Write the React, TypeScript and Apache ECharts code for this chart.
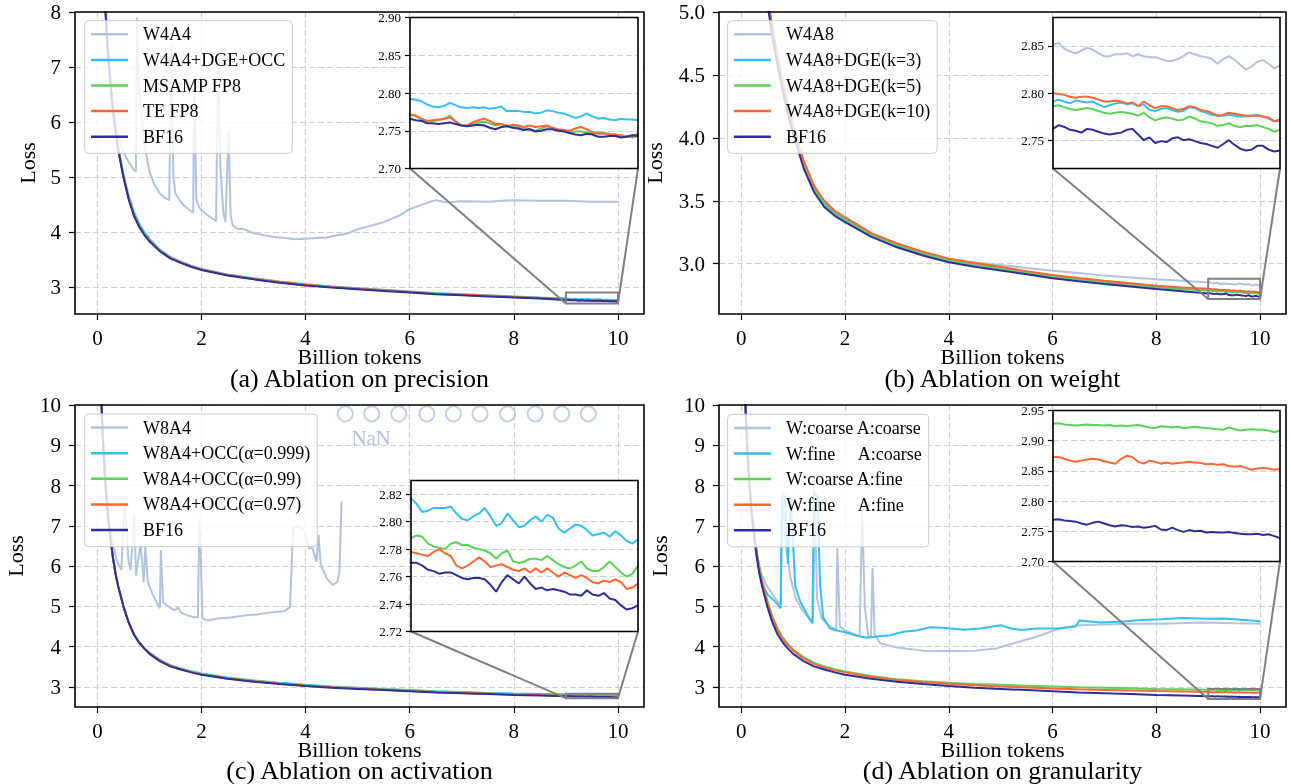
import React, { useEffect, useRef } from "react";
import * as echarts from "echarts";

const FONT = "Liberation Serif";
const C_LIGHT = "#B0C4DE";
const C_CYAN = "#33BFF2";
const C_GREEN = "#5BD35B";
const C_ORANGE = "#FF6633";
const C_NAVY = "#2E2E99";
const GRID_LINE = { color: "#d0d0d0", type: [6, 3] as number[], width: 1.2 };

// ---------- x positions (billion tokens) ----------
const X_EARLY = [0.05, 0.08, 0.1, 0.15, 0.2, 0.25, 0.3, 0.35, 0.4, 0.5, 0.6, 0.7, 0.8, 0.9, 1.0, 1.2, 1.4, 1.6, 1.8, 2.0, 2.5, 3.0, 3.5, 4.0, 4.5, 5.0, 5.5, 6.0, 6.5, 7.0, 7.5, 8.0, 8.5];
const X_EARLY_B = [0.3, 0.4, 0.5, 0.6, 0.7, 0.8, 0.9, 1.0, 1.2, 1.4, 1.6, 1.8, 2.0, 2.5, 3.0, 3.5, 4.0, 4.5, 5.0, 5.5, 6.0, 6.5, 7.0, 7.5, 8.0, 8.5];
const X_ZOOM = [9.0, 9.025, 9.05, 9.075, 9.1, 9.125, 9.15, 9.175, 9.2, 9.225, 9.25, 9.275, 9.3, 9.325, 9.35, 9.375, 9.4, 9.425, 9.45, 9.475, 9.5, 9.525, 9.55, 9.575, 9.6, 9.625, 9.65, 9.675, 9.7, 9.725, 9.75, 9.775, 9.8, 9.825, 9.85, 9.875, 9.9, 9.925, 9.95, 9.975, 10.0];

// ---------- (a) precision ----------
const A_W4A4 = [[0.05, 11.0], [0.1, 9.3], [0.2, 7.3], [0.3, 6.25], [0.4, 5.75], [0.5, 5.45], [0.6, 5.28], [0.7, 5.13], [0.74, 5.1], [0.76, 7.9], [0.8, 6.6], [0.9, 5.6], [1.0, 5.1], [1.1, 4.85], [1.2, 4.7], [1.3, 4.62], [1.38, 4.58], [1.42, 7.4], [1.46, 5.0], [1.5, 4.7], [1.6, 4.55], [1.7, 4.45], [1.8, 4.38], [1.84, 4.35], [1.86, 6.8], [1.9, 4.6], [1.95, 4.45], [2.0, 4.4], [2.1, 4.32], [2.2, 4.25], [2.28, 4.2], [2.32, 7.3], [2.36, 5.2], [2.42, 4.35], [2.46, 4.18], [2.52, 5.85], [2.56, 4.3], [2.6, 4.12], [2.7, 4.05], [2.8, 4.06], [3.0, 3.98], [3.2, 3.94], [3.4, 3.91], [3.6, 3.89], [3.8, 3.87], [4.0, 3.88], [4.2, 3.89], [4.4, 3.9], [4.6, 3.94], [4.8, 3.97], [5.0, 4.05], [5.2, 4.1], [5.5, 4.18], [5.8, 4.3], [6.0, 4.42], [6.3, 4.52], [6.5, 4.58], [6.7, 4.54], [7.0, 4.56], [7.5, 4.55], [8.0, 4.58], [8.5, 4.57], [9.0, 4.57], [9.5, 4.55], [10.0, 4.55]];
const A_CYAN_EARLY = [11.0, 10.0, 9.3, 8.15, 7.35, 6.75, 6.25, 5.85, 5.55, 5.05, 4.66, 4.37, 4.16, 4.0, 3.88, 3.68, 3.55, 3.46, 3.39, 3.33, 3.23, 3.16, 3.1, 3.05, 3.01, 2.98, 2.95, 2.92, 2.89, 2.87, 2.85, 2.83, 2.81];
const A_CYAN_ZOOM = [2.792, 2.791, 2.789, 2.785, 2.782, 2.781, 2.783, 2.787, 2.784, 2.781, 2.78, 2.781, 2.78, 2.781, 2.779, 2.78, 2.782, 2.776, 2.776, 2.776, 2.775, 2.775, 2.773, 2.774, 2.777, 2.776, 2.774, 2.773, 2.77, 2.767, 2.769, 2.773, 2.769, 2.766, 2.767, 2.765, 2.764, 2.766, 2.765, 2.765, 2.764];
const A_GREEN_EARLY = [11.0, 10.0, 9.3, 8.12, 7.32, 6.72, 6.22, 5.82, 5.52, 5.02, 4.62, 4.32, 4.12, 3.97, 3.85, 3.66, 3.53, 3.45, 3.38, 3.32, 3.22, 3.15, 3.09, 3.04, 3.0, 2.97, 2.94, 2.91, 2.88, 2.86, 2.84, 2.82, 2.8];
const A_GREEN_ZOOM = [2.771, 2.769, 2.765, 2.763, 2.763, 2.764, 2.766, 2.77, 2.763, 2.757, 2.757, 2.759, 2.761, 2.762, 2.76, 2.757, 2.759, 2.757, 2.755, 2.755, 2.754, 2.752, 2.75, 2.753, 2.756, 2.753, 2.751, 2.75, 2.748, 2.749, 2.749, 2.748, 2.747, 2.748, 2.747, 2.746, 2.745, 2.744, 2.743, 2.741, 2.743];
const A_ORANGE_EARLY = [11.0, 10.0, 9.3, 8.1, 7.3, 6.7, 6.2, 5.8, 5.5, 5.0, 4.61, 4.31, 4.11, 3.96, 3.84, 3.66, 3.53, 3.45, 3.38, 3.32, 3.22, 3.15, 3.09, 3.04, 3.0, 2.97, 2.94, 2.91, 2.88, 2.86, 2.84, 2.82, 2.8];
const A_ORANGE_ZOOM = [2.772, 2.77, 2.766, 2.763, 2.764, 2.765, 2.766, 2.768, 2.762, 2.757, 2.757, 2.761, 2.764, 2.766, 2.763, 2.759, 2.759, 2.756, 2.758, 2.757, 2.755, 2.757, 2.755, 2.756, 2.757, 2.754, 2.752, 2.751, 2.75, 2.753, 2.755, 2.752, 2.748, 2.746, 2.746, 2.745, 2.745, 2.743, 2.742, 2.743, 2.746];
const A_BF16_EARLY = [11.0, 10.0, 9.3, 8.1, 7.3, 6.7, 6.2, 5.8, 5.5, 5.0, 4.6, 4.3, 4.1, 3.95, 3.83, 3.65, 3.52, 3.44, 3.37, 3.31, 3.21, 3.14, 3.08, 3.03, 2.99, 2.96, 2.93, 2.9, 2.87, 2.85, 2.83, 2.81, 2.79];
const A_BF16_ZOOM = [2.766, 2.764, 2.763, 2.76, 2.76, 2.759, 2.76, 2.761, 2.759, 2.757, 2.756, 2.757, 2.758, 2.757, 2.754, 2.752, 2.755, 2.756, 2.754, 2.753, 2.751, 2.752, 2.749, 2.75, 2.752, 2.752, 2.75, 2.749, 2.747, 2.745, 2.744, 2.746, 2.745, 2.742, 2.742, 2.743, 2.743, 2.741, 2.742, 2.744, 2.743];

// ---------- (b) weight ----------
const B_LIGHT_EARLY = [6.45, 5.66, 5.12, 4.85, 4.62, 4.42, 4.24, 4.07, 3.79, 3.59, 3.48, 3.41, 3.36, 3.24, 3.16, 3.09, 3.04, 3.01, 2.99, 2.965, 2.944, 2.925, 2.905, 2.89, 2.876, 2.865];
const B_LIGHT_ZOOM = [2.851, 2.853, 2.847, 2.844, 2.842, 2.845, 2.848, 2.846, 2.842, 2.839, 2.839, 2.841, 2.841, 2.842, 2.839, 2.841, 2.839, 2.838, 2.838, 2.836, 2.834, 2.834, 2.836, 2.839, 2.843, 2.841, 2.839, 2.838, 2.836, 2.831, 2.836, 2.839, 2.835, 2.83, 2.825, 2.828, 2.833, 2.835, 2.831, 2.826, 2.829];
const B_CYAN_EARLY = [6.5, 5.68, 5.12, 4.85, 4.62, 4.42, 4.24, 4.08, 3.8, 3.6, 3.48, 3.405, 3.355, 3.235, 3.15, 3.085, 3.033, 2.998, 2.968, 2.935, 2.905, 2.88, 2.86, 2.84, 2.82, 2.805];
const B_CYAN_ZOOM = [2.791, 2.793, 2.791, 2.789, 2.792, 2.791, 2.79, 2.791, 2.788, 2.785, 2.787, 2.789, 2.79, 2.788, 2.789, 2.786, 2.788, 2.782, 2.781, 2.783, 2.784, 2.782, 2.78, 2.781, 2.785, 2.784, 2.781, 2.779, 2.777, 2.776, 2.776, 2.777, 2.776, 2.775, 2.775, 2.776, 2.777, 2.775, 2.773, 2.77, 2.77];
const B_GREEN_EARLY = [6.45, 5.65, 5.1, 4.83, 4.6, 4.4, 4.22, 4.06, 3.78, 3.59, 3.47, 3.395, 3.345, 3.228, 3.143, 3.078, 3.026, 2.99, 2.96, 2.926, 2.896, 2.872, 2.851, 2.831, 2.812, 2.797];
const B_GREEN_ZOOM = [2.786, 2.787, 2.785, 2.783, 2.782, 2.783, 2.784, 2.783, 2.781, 2.779, 2.778, 2.779, 2.78, 2.779, 2.778, 2.776, 2.779, 2.774, 2.771, 2.773, 2.774, 2.773, 2.771, 2.772, 2.775, 2.773, 2.77, 2.769, 2.768, 2.765, 2.766, 2.768, 2.765, 2.764, 2.765, 2.765, 2.766, 2.764, 2.762, 2.759, 2.761];
const B_ORANGE_EARLY = [6.55, 5.72, 5.15, 4.88, 4.65, 4.45, 4.27, 4.1, 3.82, 3.62, 3.5, 3.42, 3.37, 3.245, 3.16, 3.095, 3.04, 3.005, 2.975, 2.94, 2.91, 2.886, 2.865, 2.845, 2.825, 2.81];
const B_ORANGE_ZOOM = [2.8, 2.799, 2.798, 2.796, 2.795, 2.796, 2.796, 2.795, 2.793, 2.791, 2.791, 2.792, 2.791, 2.789, 2.79, 2.786, 2.791, 2.787, 2.784, 2.786, 2.786, 2.784, 2.782, 2.783, 2.786, 2.785, 2.782, 2.781, 2.779, 2.776, 2.777, 2.779, 2.778, 2.777, 2.776, 2.776, 2.776, 2.775, 2.774, 2.77, 2.772];
const B_BF16_EARLY = [6.4, 5.6, 5.08, 4.8, 4.57, 4.37, 4.19, 4.03, 3.76, 3.57, 3.45, 3.38, 3.33, 3.215, 3.13, 3.065, 3.012, 2.975, 2.945, 2.915, 2.885, 2.86, 2.838, 2.818, 2.798, 2.78];
const B_BF16_ZOOM = [2.762, 2.766, 2.764, 2.761, 2.76, 2.758, 2.762, 2.761, 2.759, 2.757, 2.756, 2.757, 2.758, 2.761, 2.762, 2.756, 2.75, 2.753, 2.747, 2.749, 2.748, 2.752, 2.753, 2.75, 2.751, 2.749, 2.747, 2.746, 2.744, 2.742, 2.746, 2.75, 2.745, 2.741, 2.739, 2.74, 2.744, 2.744, 2.74, 2.738, 2.739];

// ---------- (c) activation ----------
const C_W8A4 = [[0.05, 11.0], [0.1, 9.3], [0.2, 7.3], [0.28, 6.65], [0.37, 6.15], [0.46, 5.9], [0.52, 7.6], [0.6, 6.1], [0.64, 5.9], [0.71, 7.3], [0.74, 5.76], [0.83, 6.55], [0.89, 5.6], [0.92, 6.5], [0.97, 5.6], [1.07, 5.27], [1.2, 4.95], [1.22, 6.4], [1.26, 5.1], [1.36, 5.0], [1.48, 4.9], [1.55, 4.97], [1.6, 4.85], [1.73, 4.77], [1.86, 4.73], [1.93, 4.73], [1.96, 7.18], [2.02, 4.7], [2.12, 4.65], [2.31, 4.7], [2.56, 4.72], [2.82, 4.77], [3.08, 4.8], [3.33, 4.85], [3.59, 4.88], [3.7, 4.98], [3.76, 6.93], [3.86, 6.98], [3.98, 6.89], [4.06, 6.44], [4.13, 6.44], [4.21, 6.11], [4.25, 6.77], [4.29, 6.02], [4.41, 5.69], [4.49, 5.57], [4.53, 5.53], [4.61, 5.61], [4.65, 5.86], [4.69, 7.6]];
const C_NAN_X = [4.76, 5.27, 5.79, 6.33, 6.84, 7.35, 7.88, 8.41, 8.92, 9.43];
const C_NAN_Y = [9.78, 9.78, 9.78, 9.78, 9.78, 9.78, 9.78, 9.78, 9.78, 9.78];
const C_CYAN_EARLY = [11.0, 10.0, 9.3, 8.1, 7.3, 6.7, 6.2, 5.8, 5.5, 5.0, 4.61, 4.32, 4.12, 3.97, 3.85, 3.67, 3.54, 3.46, 3.39, 3.33, 3.23, 3.16, 3.1, 3.05, 3.01, 2.98, 2.95, 2.92, 2.89, 2.87, 2.85, 2.835, 2.825];
const C_CYAN_ZOOM = [2.817, 2.813, 2.807, 2.808, 2.81, 2.81, 2.81, 2.811, 2.806, 2.802, 2.801, 2.804, 2.806, 2.81, 2.804, 2.797, 2.799, 2.806, 2.801, 2.796, 2.797, 2.801, 2.804, 2.8, 2.805, 2.803, 2.795, 2.792, 2.795, 2.798, 2.797, 2.794, 2.79, 2.791, 2.792, 2.789, 2.793, 2.79, 2.786, 2.784, 2.787];
const C_GREEN_EARLY = [11.0, 10.0, 9.3, 8.1, 7.3, 6.7, 6.2, 5.8, 5.5, 5.0, 4.6, 4.31, 4.11, 3.96, 3.84, 3.66, 3.53, 3.45, 3.38, 3.32, 3.22, 3.15, 3.09, 3.04, 3.0, 2.97, 2.94, 2.91, 2.88, 2.86, 2.84, 2.815, 2.8];
const C_GREEN_ZOOM = [2.788, 2.79, 2.789, 2.784, 2.782, 2.781, 2.78, 2.784, 2.785, 2.783, 2.783, 2.781, 2.78, 2.779, 2.777, 2.773, 2.777, 2.779, 2.771, 2.77, 2.771, 2.773, 2.773, 2.772, 2.775, 2.772, 2.769, 2.767, 2.766, 2.768, 2.771, 2.766, 2.764, 2.764, 2.767, 2.771, 2.767, 2.763, 2.76, 2.762, 2.768];
const C_ORANGE_EARLY = [11.0, 10.0, 9.3, 8.1, 7.3, 6.7, 6.2, 5.8, 5.5, 5.0, 4.6, 4.3, 4.1, 3.96, 3.83, 3.65, 3.52, 3.44, 3.37, 3.31, 3.21, 3.14, 3.08, 3.03, 2.99, 2.96, 2.93, 2.9, 2.87, 2.85, 2.83, 2.81, 2.795];
const C_ORANGE_ZOOM = [2.778, 2.777, 2.776, 2.775, 2.778, 2.78, 2.777, 2.775, 2.768, 2.766, 2.768, 2.771, 2.774, 2.771, 2.767, 2.768, 2.769, 2.767, 2.765, 2.764, 2.766, 2.763, 2.766, 2.763, 2.766, 2.763, 2.76, 2.763, 2.761, 2.759, 2.761, 2.759, 2.756, 2.755, 2.757, 2.756, 2.758, 2.756, 2.751, 2.752, 2.755];
const C_BF16_EARLY = [11.0, 10.0, 9.3, 8.1, 7.3, 6.7, 6.2, 5.8, 5.5, 5.0, 4.6, 4.3, 4.1, 3.95, 3.82, 3.64, 3.51, 3.43, 3.36, 3.3, 3.2, 3.13, 3.07, 3.02, 2.98, 2.95, 2.92, 2.89, 2.86, 2.84, 2.82, 2.8, 2.785];
const C_BF16_ZOOM = [2.77, 2.77, 2.768, 2.765, 2.764, 2.762, 2.763, 2.763, 2.761, 2.759, 2.758, 2.759, 2.759, 2.758, 2.754, 2.749, 2.756, 2.761, 2.758, 2.755, 2.76, 2.755, 2.751, 2.752, 2.75, 2.751, 2.75, 2.749, 2.747, 2.747, 2.746, 2.75, 2.747, 2.746, 2.748, 2.744, 2.743, 2.739, 2.736, 2.737, 2.739];

// ---------- (d) granularity ----------
const D_COARSE_COARSE = [[0.05, 11.0], [0.1, 9.3], [0.2, 7.3], [0.3, 6.3], [0.4, 5.75], [0.5, 5.5], [0.6, 5.3], [0.7, 5.12], [0.76, 5.05], [0.79, 7.85], [0.84, 6.7], [0.95, 5.7], [1.05, 5.2], [1.15, 4.95], [1.3, 4.7], [1.38, 4.6], [1.42, 7.5], [1.46, 5.2], [1.55, 4.7], [1.7, 4.5], [1.83, 4.42], [1.85, 6.45], [1.9, 4.5], [2.0, 4.4], [2.15, 4.32], [2.28, 4.25], [2.33, 7.4], [2.38, 5.0], [2.45, 4.25], [2.5, 4.22], [2.53, 5.95], [2.57, 4.3], [2.68, 4.08], [3.0, 3.98], [3.5, 3.9], [4.0, 3.89], [4.5, 3.9], [4.9, 3.95], [5.3, 4.1], [5.68, 4.24], [6.13, 4.45], [6.52, 4.53], [7.0, 4.55], [7.5, 4.57], [8.1, 4.57], [8.9, 4.6], [9.5, 4.58], [10.0, 4.57]];
const D_FINE_COARSE = [[0.05, 11.0], [0.1, 9.3], [0.2, 7.3], [0.3, 6.2], [0.38, 5.65], [0.5, 5.3], [0.63, 5.15], [0.72, 5.02], [0.76, 4.95], [0.78, 7.7], [0.84, 7.75], [0.9, 6.05], [0.95, 7.7], [1.0, 6.5], [1.04, 5.5], [1.14, 5.1], [1.27, 4.8], [1.37, 4.58], [1.4, 7.85], [1.47, 7.7], [1.52, 5.5], [1.58, 4.72], [1.71, 4.45], [1.84, 4.4], [1.97, 4.37], [2.23, 4.27], [2.42, 4.22], [2.61, 4.25], [2.87, 4.28], [3.12, 4.37], [3.38, 4.4], [3.64, 4.48], [3.9, 4.47], [4.03, 4.45], [4.3, 4.42], [4.6, 4.45], [5.0, 4.53], [5.2, 4.45], [5.4, 4.41], [5.7, 4.45], [6.13, 4.45], [6.44, 4.5], [6.52, 4.65], [6.92, 4.6], [7.3, 4.62], [7.71, 4.66], [8.1, 4.68], [8.5, 4.71], [9.0, 4.69], [9.3, 4.7], [9.7, 4.66], [10.0, 4.63]];
const D_GREEN_EARLY = [11.0, 10.0, 9.3, 8.15, 7.4, 6.85, 6.35, 5.95, 5.65, 5.15, 4.75, 4.45, 4.22, 4.06, 3.93, 3.74, 3.6, 3.51, 3.44, 3.38, 3.27, 3.19, 3.14, 3.1, 3.07, 3.05, 3.03, 3.01, 2.99, 2.98, 2.965, 2.95, 2.94];
const D_GREEN_ZOOM = [2.928, 2.929, 2.927, 2.926, 2.925, 2.926, 2.927, 2.926, 2.926, 2.925, 2.926, 2.924, 2.925, 2.924, 2.925, 2.926, 2.924, 2.922, 2.921, 2.924, 2.923, 2.922, 2.923, 2.921, 2.922, 2.923, 2.922, 2.921, 2.92, 2.919, 2.918, 2.922, 2.919, 2.917, 2.918, 2.919, 2.918, 2.918, 2.917, 2.914, 2.917];
const D_ORANGE_EARLY = [11.0, 10.0, 9.3, 8.12, 7.35, 6.8, 6.3, 5.9, 5.6, 5.1, 4.7, 4.4, 4.18, 4.03, 3.9, 3.71, 3.57, 3.48, 3.41, 3.36, 3.25, 3.17, 3.12, 3.08, 3.04, 3.01, 2.985, 2.96, 2.94, 2.925, 2.91, 2.895, 2.885];
const D_ORANGE_ZOOM = [2.873, 2.873, 2.87, 2.867, 2.865, 2.867, 2.869, 2.87, 2.869, 2.866, 2.864, 2.862, 2.87, 2.875, 2.873, 2.865, 2.862, 2.867, 2.865, 2.862, 2.864, 2.862, 2.863, 2.864, 2.865, 2.864, 2.863, 2.861, 2.862, 2.86, 2.861, 2.858, 2.857, 2.858, 2.855, 2.852, 2.854, 2.855, 2.854, 2.852, 2.853];
const D_BF16_EARLY = [11.0, 10.0, 9.3, 8.1, 7.3, 6.7, 6.2, 5.8, 5.5, 5.0, 4.6, 4.3, 4.1, 3.95, 3.82, 3.64, 3.51, 3.43, 3.36, 3.3, 3.2, 3.13, 3.07, 3.02, 2.98, 2.95, 2.92, 2.89, 2.86, 2.84, 2.82, 2.8, 2.785];
const D_BF16_ZOOM = [2.769, 2.77, 2.768, 2.767, 2.766, 2.763, 2.761, 2.764, 2.766, 2.763, 2.76, 2.758, 2.76, 2.759, 2.757, 2.758, 2.756, 2.757, 2.759, 2.753, 2.752, 2.756, 2.752, 2.749, 2.752, 2.75, 2.751, 2.748, 2.749, 2.748, 2.748, 2.749, 2.747, 2.746, 2.745, 2.745, 2.746, 2.744, 2.745, 2.742, 2.739];

// ---------- axes / ticks ----------
const X_RANGE = [-0.43, 10.5];
const X_TICKS = [0, 2, 4, 6, 8, 10];
const Y_RANGES = [[2.51, 8], [2.6, 5.0], [2.5, 10], [2.5, 10]];
const Y_TICKS = [[3, 4, 5, 6, 7, 8], [3.0, 3.5, 4.0, 4.5, 5.0], [3, 4, 5, 6, 7, 8, 9, 10], [3, 4, 5, 6, 7, 8, 9, 10]];
const Y_DIGITS = [0, 1, 0, 0];
const ZOOM_X = [9, 10];
const INSET_Y = [[2.7, 2.9], [2.72, 2.88], [2.72, 2.83], [2.7, 2.95]];
const INSET_TICKS = [[2.7, 2.75, 2.8, 2.85, 2.9], [2.75, 2.8, 2.85], [2.72, 2.74, 2.76, 2.78, 2.8, 2.82], [2.7, 2.75, 2.8, 2.85, 2.9, 2.95]];
const TITLES = ["(a) Ablation on precision", "(b) Ablation on weight", "(c) Ablation on activation", "(d) Ablation on granularity"];
const SP5 = "\u00a0\u00a0\u00a0\u00a0\u00a0";

// layout (pixels)
const MAIN_GRIDS = [
  { left: 75, top: 12, width: 569, height: 302 },
  { left: 719, top: 12, width: 567, height: 302 },
  { left: 75, top: 405, width: 569, height: 302 },
  { left: 719, top: 405, width: 567, height: 302 },
];
const INSET_GRIDS = [
  { left: 410, top: 17.5, width: 228, height: 151 },
  { left: 1053, top: 17.5, width: 227, height: 151 },
  { left: 411, top: 480.5, width: 227, height: 151 },
  { left: 1053, top: 410.5, width: 227, height: 151 },
];
const LEGEND_POS = [
  { left: 84.7, top: 20.7 },
  { left: 727.6, top: 20.7 },
  { left: 84.7, top: 414 },
  { left: 727.6, top: 414.3 },
];
const NAME_GAPS = [37, 54, 48.5, 48.5];
const TITLE_Y = [378, 378, 770, 770];

function zip(xs: number[], ys: number[]) {
  return xs.map((x, i) => [x, ys[i]]);
}
function join(xs: number[], early: number[], zoom: number[]) {
  return zip(xs, early).concat(zip(X_ZOOM, zoom));
}

type Ser = { name: string; color: string; data: number[][] };
const PANELS: Ser[][] = [
  [
    { name: "W4A4", color: C_LIGHT, data: A_W4A4 },
    { name: "W4A4+DGE+OCC", color: C_CYAN, data: join(X_EARLY, A_CYAN_EARLY, A_CYAN_ZOOM) },
    { name: "MSAMP FP8", color: C_GREEN, data: join(X_EARLY, A_GREEN_EARLY, A_GREEN_ZOOM) },
    { name: "TE FP8", color: C_ORANGE, data: join(X_EARLY, A_ORANGE_EARLY, A_ORANGE_ZOOM) },
    { name: "BF16", color: C_NAVY, data: join(X_EARLY, A_BF16_EARLY, A_BF16_ZOOM) },
  ],
  [
    { name: "W4A8", color: C_LIGHT, data: join(X_EARLY_B, B_LIGHT_EARLY, B_LIGHT_ZOOM) },
    { name: "W4A8+DGE(k=3)", color: C_CYAN, data: join(X_EARLY_B, B_CYAN_EARLY, B_CYAN_ZOOM) },
    { name: "W4A8+DGE(k=5)", color: C_GREEN, data: join(X_EARLY_B, B_GREEN_EARLY, B_GREEN_ZOOM) },
    { name: "W4A8+DGE(k=10)", color: C_ORANGE, data: join(X_EARLY_B, B_ORANGE_EARLY, B_ORANGE_ZOOM) },
    { name: "BF16", color: C_NAVY, data: join(X_EARLY_B, B_BF16_EARLY, B_BF16_ZOOM) },
  ],
  [
    { name: "W8A4", color: C_LIGHT, data: C_W8A4 },
    { name: "W8A4+OCC(α=0.999)", color: C_CYAN, data: join(X_EARLY, C_CYAN_EARLY, C_CYAN_ZOOM) },
    { name: "W8A4+OCC(α=0.99)", color: C_GREEN, data: join(X_EARLY, C_GREEN_EARLY, C_GREEN_ZOOM) },
    { name: "W8A4+OCC(α=0.97)", color: C_ORANGE, data: join(X_EARLY, C_ORANGE_EARLY, C_ORANGE_ZOOM) },
    { name: "BF16", color: C_NAVY, data: join(X_EARLY, C_BF16_EARLY, C_BF16_ZOOM) },
  ],
  [
    { name: "W:coarse A:coarse", color: C_LIGHT, data: D_COARSE_COARSE },
    { name: "W:fine" + SP5 + "A:coarse", color: C_CYAN, data: D_FINE_COARSE },
    { name: "W:coarse A:fine", color: C_GREEN, data: join(X_EARLY, D_GREEN_EARLY, D_GREEN_ZOOM) },
    { name: "W:fine" + SP5 + "A:fine", color: C_ORANGE, data: join(X_EARLY, D_ORANGE_EARLY, D_ORANGE_ZOOM) },
    { name: "BF16", color: C_NAVY, data: join(X_EARLY, D_BF16_EARLY, D_BF16_ZOOM) },
  ],
];

function buildOption() {
  const grid: any[] = [];
  const xAxis: any[] = [];
  const yAxis: any[] = [];
  const series: any[] = [];
  const legend: any[] = [];

  MAIN_GRIDS.forEach((g, p) => {
    grid.push({ ...g, show: false, z: 0 });
    xAxis.push({
      type: "value", gridIndex: p, min: X_RANGE[0], max: X_RANGE[1],
      axisLine: { show: false, onZero: false },
      axisTick: { show: true, length: 6, customValues: X_TICKS, lineStyle: { color: "#000", width: 1.2 } },
      axisLabel: { customValues: X_TICKS, fontSize: 21, lineHeight: 16, fontFamily: FONT, color: "#000", margin: 16 },
      splitLine: { show: true, lineStyle: GRID_LINE },
      name: "Billion tokens", nameLocation: "middle", nameGap: 33, nameMoveOverlap: false,
      nameTextStyle: { fontSize: 22, fontFamily: FONT, color: "#000", lineHeight: 18 },
    });
    const digits = Y_DIGITS[p];
    yAxis.push({
      type: "value", gridIndex: p, min: Y_RANGES[p][0], max: Y_RANGES[p][1],
      axisLine: { show: false, onZero: false },
      axisTick: { show: true, length: 6, customValues: Y_TICKS[p], lineStyle: { color: "#000", width: 1.2 } },
      axisLabel: { customValues: Y_TICKS[p], formatter: (v: number) => v.toFixed(digits), fontSize: 21, fontFamily: FONT, color: "#000", margin: 14 },
      splitLine: { show: true, lineStyle: GRID_LINE },
      name: "Loss", nameLocation: "middle", nameGap: NAME_GAPS[p], nameMoveOverlap: false,
      nameTextStyle: { fontSize: 22, fontFamily: FONT, color: "#000" },
    });
  });

  INSET_GRIDS.forEach((g, p) => {
    const gi = p + 4;
    grid.push({ ...g, show: true, borderWidth: 0, borderColor: "#fff", backgroundColor: "#fff", z: 10 });
    xAxis.push({
      type: "value", gridIndex: gi, min: ZOOM_X[0], max: ZOOM_X[1], z: 10,
      axisLine: { show: false, onZero: false }, axisTick: { show: false }, axisLabel: { show: false }, splitLine: { show: false },
    });
    yAxis.push({
      type: "value", gridIndex: gi, min: INSET_Y[p][0], max: INSET_Y[p][1], z: 10,
      axisLine: { show: false, onZero: false },
      axisTick: { show: true, length: 5, customValues: INSET_TICKS[p], lineStyle: { color: "#000", width: 1.2 } },
      axisLabel: { customValues: INSET_TICKS[p], formatter: (v: number) => v.toFixed(2), fontSize: 13, fontFamily: FONT, color: "#000", margin: 9 },
      splitLine: { show: true, lineStyle: GRID_LINE },
    });
  });

  PANELS.forEach((list, p) => {
    list.forEach((s) => {
      const base = {
        type: "line", name: s.name, data: s.data, showSymbol: false, symbol: "none",
        color: s.color, itemStyle: { color: s.color }, silent: true, clip: true,
      };
      series.push({ ...base, xAxisIndex: p, yAxisIndex: p, z: 2, lineStyle: { color: s.color, width: 2 } });
      series.push({ ...base, xAxisIndex: p + 4, yAxisIndex: p + 4, z: 12, lineStyle: { color: s.color, width: 2 } });
    });
    legend.push({
      show: true, selectedMode: false, orient: "vertical", ...LEGEND_POS[p],
      data: list.map((s) => s.name), icon: "rect", itemWidth: 37, itemHeight: 2.5, itemGap: 5.6,
      padding: [3.6, 7, 6.6, 6.3],
      backgroundColor: "rgba(255,255,255,0.8)", borderColor: "#cccccc", borderWidth: 1, borderRadius: 4,
      textStyle: { fontFamily: FONT, fontSize: 18, color: "#000", lineHeight: 20, padding: [0, 0, 0, 10] },
      z: 6,
    });
  });

  series.push({
    type: "scatter", name: "NaN", xAxisIndex: 2, yAxisIndex: 2, data: zip(C_NAN_X, C_NAN_Y),
    symbol: "circle", symbolSize: 15, silent: true, z: 3,
    itemStyle: { color: "rgba(255,255,255,0)", borderColor: C_LIGHT, borderWidth: 2 },
  });

  return {
    animation: false,
    textStyle: { fontFamily: FONT },
    grid, xAxis, yAxis, series, legend,
  };
}

export default function App() {
  const ref = useRef<HTMLDivElement>(null);
  useEffect(() => {
    const chart = echarts.init(ref.current!, null, { renderer: "svg" });
    chart.setOption(buildOption() as any);
    const els: any[] = [];
    const frame = (gi: number, x0: number, x1: number, y0: number, y1: number, z: number) => {
      const a = chart.convertToPixel({ gridIndex: gi } as any, [x0, y1]) as number[];
      const b = chart.convertToPixel({ gridIndex: gi } as any, [x1, y0]) as number[];
      els.push({
        type: "rect", z, silent: true,
        shape: { x: a[0], y: a[1], width: b[0] - a[0], height: b[1] - a[1] },
        style: { fill: "none", stroke: "#000", lineWidth: 1.6 },
      });
    };
    for (let p = 0; p < 4; p++) {
      const [y0, y1] = INSET_Y[p];
      frame(p, X_RANGE[0], X_RANGE[1], Y_RANGES[p][0], Y_RANGES[p][1], 4);
      frame(p + 4, ZOOM_X[0], ZOOM_X[1], y0, y1, 14);
      const bLL = chart.convertToPixel({ gridIndex: p } as any, [ZOOM_X[0], y0]) as number[];
      const bUR = chart.convertToPixel({ gridIndex: p } as any, [ZOOM_X[1], y1]) as number[];
      const iLL = chart.convertToPixel({ gridIndex: p + 4 } as any, [ZOOM_X[0], y0]) as number[];
      const iLR = chart.convertToPixel({ gridIndex: p + 4 } as any, [ZOOM_X[1], y0]) as number[];
      const st = { stroke: "#808080", lineWidth: 2, fill: "none" };
      els.push({ type: "rect", z: 5, silent: true, shape: { x: bLL[0], y: bUR[1], width: bUR[0] - bLL[0], height: bLL[1] - bUR[1] }, style: st });
      els.push({ type: "line", z: 5, silent: true, shape: { x1: iLL[0], y1: iLL[1], x2: bLL[0], y2: bLL[1] }, style: st });
      els.push({ type: "line", z: 5, silent: true, shape: { x1: iLR[0], y1: iLR[1], x2: bUR[0], y2: bLL[1] }, style: st });
      const g = MAIN_GRIDS[p];
      els.push({
        type: "text", z: 20, silent: true, x: g.left + g.width / 2, y: TITLE_Y[p],
        style: { text: TITLES[p], fontSize: 26, lineHeight: 24, fontFamily: FONT, fill: "#000", align: "center", verticalAlign: "middle", textAlign: "center", textVerticalAlign: "middle" },
      });
    }
    const nanPos = chart.convertToPixel({ gridIndex: 2 } as any, [5.26, 9.17]) as number[];
    els.push({
      type: "text", z: 20, silent: true, x: nanPos[0], y: nanPos[1],
      style: { text: "NaN", fontSize: 21, fontFamily: FONT, fill: C_LIGHT, align: "center", verticalAlign: "middle", textAlign: "center", textVerticalAlign: "middle" },
    });
    chart.setOption({ graphic: { elements: els } } as any);
    return () => chart.dispose();
  }, []);
  return <div ref={ref} style={{ position: "fixed", left: 0, top: 0, width: 1291, height: 784 }} />;
}
